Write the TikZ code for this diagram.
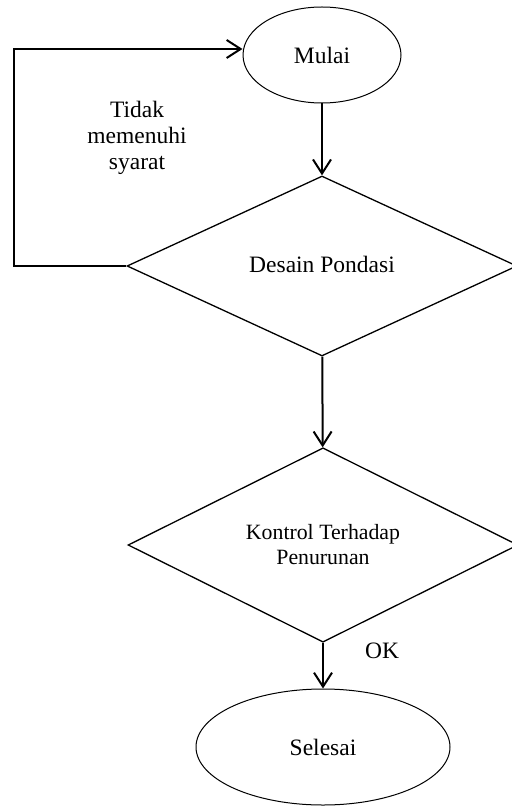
\documentclass[tikz,border=0pt]{standalone}
\usepackage{fontspec}
\setmainfont{Liberation Serif}
\usetikzlibrary{shapes.geometric,arrows.meta}

\begin{document}
\begin{tikzpicture}[x=0.5pt,y=-0.5pt]
    %
    % `terminal' is used for Mulai and Selesai (ellipses).
    % `decision' is used for the two diamonds.
    % `flow' is used for the arrows.
    \tikzstyle{terminal} = [draw,shape=ellipse,line width=0.5pt,inner sep=0pt,font=\fontsize{11.75}{13}\selectfont]
    \tikzstyle{decision} = [draw,shape=diamond,line width=0.65pt,minimum width=195pt,minimum height=90pt,inner sep=0pt,align=center]
    \tikzstyle{flow} = [line width=1pt,-{Straight Barb[length=7pt,width=9pt]}]
    \tikzstyle{note} = [align=center,inner sep=0pt]
    %
    \useasboundingbox (0,0) rectangle (511,807);
    %
    % Start
    \node[terminal,minimum width=79pt,minimum height=48pt] (mulai) at (322,55) {Mulai};
    %
    % Decisions
    \node[decision,font=\fontsize{11.75}{13}\selectfont] (desain) at (322,266) {\raisebox{2pt}{Desain Pondasi}};
    \node[decision,font=\fontsize{10.9}{12.5}\selectfont] (kontrol) at (323,545) {Kontrol Terhadap\\Penurunan};
    %
    % End
    \node[terminal,minimum width=127pt,minimum height=58pt] (selesai) at (323,747) {Selesai};
    %
    % Arrows
    \draw[flow] (mulai) -- (desain);
    \draw[flow] (desain) -- (kontrol);
    \draw[flow] (kontrol) -- (selesai);
    %
    % Back to start
    \coordinate (back) at (14,49);
    \draw[flow] (desain.west) -| (back) -- (back -| mulai.west);
    %
    % Labels
    \node[note,font=\fontsize{11.75}{13}\selectfont] (tidak) at (137,138) {Tidak\\memenuhi\\syarat};
    \node[note,font=\fontsize{11.75}{13}\selectfont] (ok) at (382,651) {OK};
    %
\end{tikzpicture}
\end{document}
